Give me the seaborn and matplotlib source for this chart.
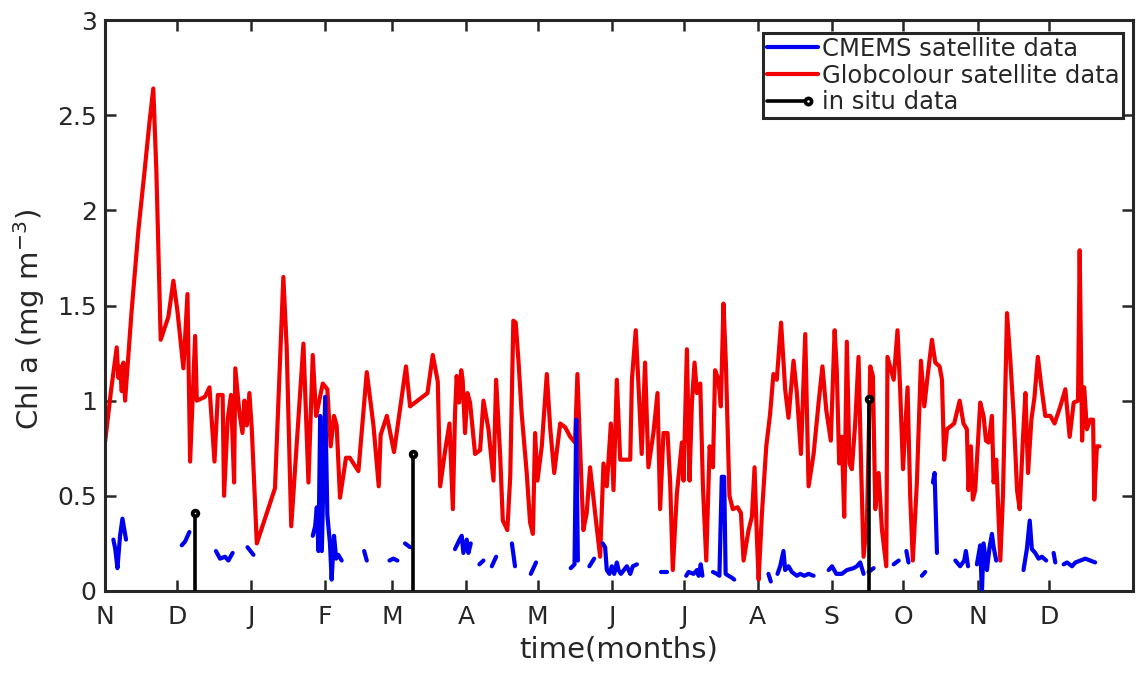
import numpy as np
import pandas as pd
import matplotlib
matplotlib.use("Agg")
import matplotlib.pyplot as plt
import seaborn as sns
from matplotlib.lines import Line2D
from matplotlib.legend_handler import HandlerLine2D

# ---------------- data (day since 1 Nov, Chl a in mg m-3) ----------------
month_labels = ['N', 'D', 'J', 'F', 'M', 'A', 'M', 'J', 'J', 'A', 'S', 'O', 'N', 'D']
month_start = [0, 30, 61, 92, 120, 151, 181, 212, 242, 273, 304, 334, 365, 395]

glob_day = [0, 2.5, 4.9, 5.6, 6.3, 7.0, 7.7, 8.4, 11.0, 14.0, 16.5, 18.5, 20.2, 21.5, 23.3,
            26.5, 28.6, 30.3, 32.8, 34.5, 35.6, 37.7, 38.4, 41.8, 43.7, 45.8, 47.2, 49.2, 49.8,
            51.3, 52.7, 54.0, 54.5, 56.2, 57.5, 58.3, 59.3, 60.4, 61.4, 63.5, 71.1, 74.6, 76.0,
            77.9, 83.0, 85.1, 86.9, 88.3, 89.3, 91.1, 93.0, 94.4, 95.8, 96.9, 98.3, 100.8, 102.4,
            106.0, 109.5, 112.3, 114.5, 115.3, 117.9, 120.9, 125.9, 127.6, 134.9, 137.1, 139.2,
            140.2, 142.3, 144.1, 145.5, 146.4, 147.1, 148.1, 149.0, 149.6, 150.6, 151.6, 152.7,
            154.8, 156.9, 158.3, 160.4, 162.5, 163.6, 165.3, 166.4, 168.3, 169.5, 170.8, 171.8,
            173.0, 174.3, 176.4, 177.8, 179.0, 179.9, 180.9, 182.7, 184.8, 186.2, 187.9, 190.4,
            192.5, 194.6, 196.6, 197.6, 198.7, 200.1, 201.5, 202.9, 205.0, 207.1, 208.5, 209.9,
            211.6, 212.7, 214.1, 215.5, 217.6, 219.7, 220.4, 222.0, 223.2, 224.5, 225.9, 227.3,
            229.4, 231.1, 232.2, 233.6, 235.3, 236.4, 237.5, 239.2, 241.3, 242.0, 243.4, 244.5,
            245.5, 246.6, 247.6, 249.0, 250.1, 251.5, 252.9, 254.3, 255.2, 256.6, 257.6, 258.7,
            259.7, 261.2, 262.6, 264.6, 266.0, 267.1, 269.2, 270.6, 271.7, 272.7, 273.4, 274.8,
            276.6, 278.2, 279.6, 281.0, 282.8, 284.5, 285.9, 288.0, 289.4, 291.1, 292.9, 294.3,
            296.4, 298.5, 300.1, 301.7, 303.6, 305.2, 306.1, 307.1, 308.2, 309.2, 310.3, 311.4,
            312.4, 313.8, 315.2, 316.3, 317.3, 318.7, 320.1, 321.2, 322.2, 323.6, 325.0, 326.8,
            327.3, 329.9, 331.5, 332.6, 333.8, 335.7, 336.8, 337.9, 339.6, 341.3, 342.7, 344.1,
            345.9, 347.3, 349.1, 350.1, 351.0, 352.2, 355.2, 357.5, 359.1, 360.5, 361.2, 362.2,
            363.0, 364.0, 366.1, 367.5, 368.5, 369.6, 371.0, 371.7, 372.8, 374.5, 375.6, 377.3,
            378.7, 380.1, 381.5, 382.6, 384.0, 385.0, 386.1, 387.5, 388.8, 390.2, 391.5, 393.3,
            395.4, 397.2, 399.6, 401.7, 403.5, 405.2, 407.0, 407.7, 408.7, 409.6, 410.7, 412.1,
            413.3, 413.8, 414.9, 416.0]
glob_val = [0.78, 1.05, 1.28, 1.12, 1.18, 1.05, 1.20, 1.00, 1.45, 1.90, 2.20, 2.45, 2.64, 2.20, 1.32,
            1.44, 1.63, 1.47, 1.17, 1.56, 0.68, 1.34, 1.00, 1.02, 1.07, 0.68, 1.03, 1.03, 0.50,
            0.90, 1.03, 0.57, 1.17, 0.94, 0.83, 1.00, 0.87, 1.04, 0.85, 0.25, 0.54, 1.65, 1.28,
            0.34, 1.30, 0.57, 1.24, 0.92, 0.98, 1.09, 1.06, 0.76, 0.92, 0.87, 0.49, 0.70, 0.70,
            0.63, 1.15, 0.87, 0.55, 0.82, 0.92, 0.73, 1.18, 0.97, 1.04, 1.24, 1.10,
            0.55, 0.74, 0.88, 0.43, 0.93, 1.13, 0.99, 1.16, 1.11, 0.83, 1.04, 0.99,
            0.72, 0.74, 1.00, 0.85, 0.58, 1.11, 0.71, 0.37, 0.32, 0.60, 1.42, 1.41,
            1.20, 0.93, 0.62, 0.36, 0.30, 0.83, 0.58, 0.76, 1.14, 0.86, 0.62, 0.88,
            0.86, 0.81, 0.78, 1.14, 0.76, 0.32, 0.41, 0.65, 0.41, 0.18, 0.67, 0.55,
            0.88, 0.53, 1.11, 0.69, 0.69, 0.69, 1.11, 1.37, 1.07, 0.72, 1.20, 0.65,
            0.83, 1.04, 0.43, 0.83, 0.83, 0.57, 0.11, 0.51, 0.78, 0.58, 1.27, 0.58,
            0.99, 1.20, 1.04, 1.09, 0.55, 0.16, 0.76, 0.65, 1.16, 1.11, 0.97, 1.51,
            1.20, 0.50, 0.43, 0.44, 0.41, 0.16, 0.32, 0.39, 0.65, 0.27, 0.06, 0.41,
            0.76, 0.93, 1.14, 1.11, 1.41, 1.06, 0.91, 1.21, 1.04, 0.72, 1.35, 0.55,
            0.72, 0.99, 1.18, 0.95, 0.79, 1.37, 1.16, 0.67, 0.81, 0.39, 1.31, 0.67,
            0.64, 0.88, 1.23, 0.64, 0.18, 0.36, 1.18, 1.13, 0.43, 0.62, 0.32, 0.13,
            1.23, 1.11, 1.37, 1.06, 0.64, 1.07, 0.50, 0.16, 0.57, 1.21, 0.97, 1.13,
            1.32, 1.20, 1.18, 1.11, 0.69, 0.85, 0.88, 1.00, 0.88, 0.85, 0.53, 0.76,
            0.48, 0.53, 0.99, 0.92, 0.79, 0.78, 0.92, 0.57, 0.69, 0.16, 0.50, 1.46,
            1.21, 0.92, 0.53, 0.43, 0.81, 1.04, 0.62, 0.90, 1.02, 1.23, 1.09, 0.92,
            0.92, 0.88, 0.97, 1.06, 0.81, 0.99, 1.00, 1.79, 0.79, 1.07, 0.85, 0.90,
            0.90, 0.48, 0.76, 0.76]

# CMEMS series: NaN marks a data gap (new segment)
nan = np.nan
cmems_day = [3.5, 4.3, 5.2, 6.3, 7.3, 8.8, nan,
             32.1, 33.5, 35.3, nan,
             46.4, 48.1, 50.2, 51.6, 53.4, nan,
             59.6, 62.1, nan,
             86.9, 87.9, 88.6, 89.3, 90.0, 90.7, 92.1, 93.0, 94.1, 94.8, 95.8, 96.7, 97.6, 99.0, nan,
             108.4, 109.5, nan,
             119.0, 120.6, 122.3, nan,
             125.5, 127.6, nan,
             146.4, 148.3, 149.2, 149.9, 151.3, 152.0, 153.0, nan,
             156.6, 158.3, nan,
             161.8, 163.6, nan,
             170.2, 171.5, nan,
             178.1, 180.3, nan,
             194.8, 196.4, 197.1, 197.8, nan,
             202.6, 204.6, nan,
             208.2, 209.2, 209.9, 211.0, 212.0, 213.0, 214.1, 214.8, 215.8, 218.3, 219.7, 220.8, 222.5, nan,
             232.5, 235.0, nan,
             243.1, 244.1, 246.2, 247.6, 248.3, 249.2, 249.9, nan,
             254.3, 255.9, 257.0, 258.0, 259.0, 259.6, 260.8, 262.2, 263.2, nan,
             277.5, 278.5, nan,
             281.3, 282.4, 283.8, 284.5, 285.9, 287.3, 289.4, 290.8, 292.5, 294.3, 296.4, nan,
             302.7, 304.1, 305.9, 308.2, 310.3, 313.1, 314.5, 315.9, 317.3, nan,
             319.4, 321.5, nan,
             329.9, 332.0, nan,
             335.2, 336.1, nan,
             341.7, 343.1, nan,
             346.3, 347.0, 348.0, nan,
             355.7, 357.7, 359.4, 360.1, 361.0, nan,
             364.7, 366.1, 366.8, 367.5, 368.9, 370.0, 371.0, 371.7, 372.8, nan,
             384.2, 385.6, 386.8, 387.7, 389.1, 390.5, 391.9, 393.7, nan,
             396.8, 397.5, nan,
             401.0, 402.4, 404.5, 405.9, 408.0, 410.1, 412.1, 414.2]
cmems_val = [0.27, 0.22, 0.12, 0.29, 0.38, 0.27, nan,
             0.24, 0.26, 0.31, nan,
             0.21, 0.17, 0.18, 0.16, 0.20, nan,
             0.23, 0.19, nan,
             0.29, 0.34, 0.44, 0.21, 0.92, 0.21, 1.02, 0.40, 0.25, 0.06, 0.29, 0.17, 0.19, 0.16, nan,
             0.21, 0.16, nan,
             0.16, 0.17, 0.16, nan,
             0.25, 0.23, nan,
             0.22, 0.27, 0.29, 0.20, 0.27, 0.20, 0.25, nan,
             0.14, 0.16, nan,
             0.13, 0.18, nan,
             0.25, 0.13, nan,
             0.09, 0.15, nan,
             0.12, 0.14, 0.90, 0.16, nan,
             0.13, 0.17, nan,
             0.25, 0.23, 0.11, 0.09, 0.13, 0.09, 0.15, 0.11, 0.09, 0.13, 0.09, 0.13, 0.14, nan,
             0.10, 0.10, nan,
             0.08, 0.10, 0.09, 0.11, 0.08, 0.14, 0.08, nan,
             0.10, 0.09, 0.08, 0.60, 0.60, 0.09, 0.08, 0.07, 0.06, nan,
             0.09, 0.05, nan,
             0.09, 0.13, 0.21, 0.11, 0.13, 0.10, 0.08, 0.09, 0.08, 0.09, 0.08, nan,
             0.11, 0.13, 0.09, 0.09, 0.11, 0.12, 0.13, 0.15, 0.09, nan,
             0.10, 0.12, nan,
             0.14, 0.16, nan,
             0.21, 0.15, nan,
             0.08, 0.10, nan,
             0.57, 0.62, 0.20, nan,
             0.16, 0.13, 0.16, 0.21, 0.13, nan,
             0.14, 0.24, -0.01, 0.25, 0.11, 0.23, 0.30, 0.23, 0.16, nan,
             0.11, 0.22, 0.37, 0.22, 0.20, 0.17, 0.18, 0.16, nan,
             0.20, 0.15, nan,
             0.14, 0.15, 0.13, 0.15, 0.16, 0.17, 0.16, 0.15]

insitu_day = [37.7, 128.9, 319.7]
insitu_val = [0.41, 0.72, 1.01]

labels = ['CMEMS satellite data', 'Globcolour satellite data', 'in situ data']

# ---------------- tables ----------------
glob_df = pd.DataFrame({'day': glob_day, 'chl': glob_val})
cm = pd.DataFrame({'day': cmems_day, 'chl': cmems_val})
cm['seg'] = cm['chl'].isna().cumsum()
cm = cm.dropna().reset_index(drop=True)
insitu_df = pd.DataFrame({'day': insitu_day, 'chl': insitu_val})

# ---------------- style ----------------
sns.set_theme(style='ticks')
plt.rcParams['font.family'] = ['DejaVu Sans']
plt.rcParams.update({
    'axes.edgecolor': '#262626',
    'xtick.color': '#262626',
    'ytick.color': '#262626',
    'text.color': '#262626',
    'axes.labelcolor': '#262626',
})

RED = '#f20000'
BLUE = '#0000f0'
LW = 3.0

fig = plt.figure(figsize=(11.37, 6.73), dpi=100)
ax = fig.add_axes([105 / 1137, 1 - 591 / 673, (1133 - 105) / 1137, (591 - 20) / 673])

sns.lineplot(data=glob_df, x='day', y='chl', color=RED, linewidth=LW, sort=False,
             estimator=None, ax=ax, zorder=2)
sns.lineplot(data=cm, x='day', y='chl', units='seg', estimator=None, color=BLUE,
             linewidth=LW, sort=False, ax=ax, zorder=3)

ax.vlines(insitu_df['day'], 0, insitu_df['chl'], color='black', lw=2.6, zorder=4)
sns.scatterplot(data=insitu_df, x='day', y='chl', marker='o', s=16, color='white',
                edgecolor='black', linewidth=2.8, ax=ax, zorder=5)

ax.set_xlim(0, 430)
ax.set_ylim(0, 3)
ax.set_xticks(month_start)
ax.set_xticklabels(month_labels)
ax.set_yticks([0, 0.5, 1, 1.5, 2, 2.5, 3])
ax.set_yticklabels(['0', '0.5', '1', '1.5', '2', '2.5', '3'])
ax.tick_params(direction='in', length=8, width=1.8, labelsize=18,
               top=True, right=True)
ax.tick_params(axis='x', pad=10)
ax.tick_params(axis='y', pad=6)
ax.set_xlabel('time(months)', fontsize=21, labelpad=5)
ax.set_ylabel('Chl a (mg m$^{-3}$)', fontsize=21, labelpad=5)
ax.yaxis.set_label_coords(-0.056, 0.475)
for s in ax.spines.values():
    s.set_visible(True)
    s.set_linewidth(2.2)


class StemHandler(HandlerLine2D):
    def create_artists(self, legend, orig_handle, xdescent, ydescent, width, height,
                       fontsize, trans):
        y = (height - ydescent) / 2.0
        xe = -xdescent + 0.8 * width
        ln = Line2D([-xdescent, xe], [y, y], color='black', lw=2.6)
        mk = Line2D([xe], [y], marker='o', ms=4.5, mfc='white',
                    mec='black', mew=2.6, ls='none')
        ln.set_transform(trans)
        mk.set_transform(trans)
        return [ln, mk]


h_cm = Line2D([], [], color=BLUE, lw=LW)
h_gl = Line2D([], [], color=RED, lw=LW)
h_is = Line2D([], [], color='black', lw=2.6, marker='o')
leg = ax.legend([h_cm, h_gl, h_is], labels, loc='upper right',
                bbox_to_anchor=((1123 - 105) / 1028, 1 - 13 / 571), borderaxespad=0,
                fontsize=17.5, frameon=True, fancybox=False, framealpha=1,
                edgecolor='#262626', handlelength=2.1, handletextpad=0.15,
                labelspacing=0.12, borderpad=0.15,
                handler_map={h_is: StemHandler()})
leg.get_frame().set_linewidth(2.2)

fig.savefig('out.png', dpi=100)
